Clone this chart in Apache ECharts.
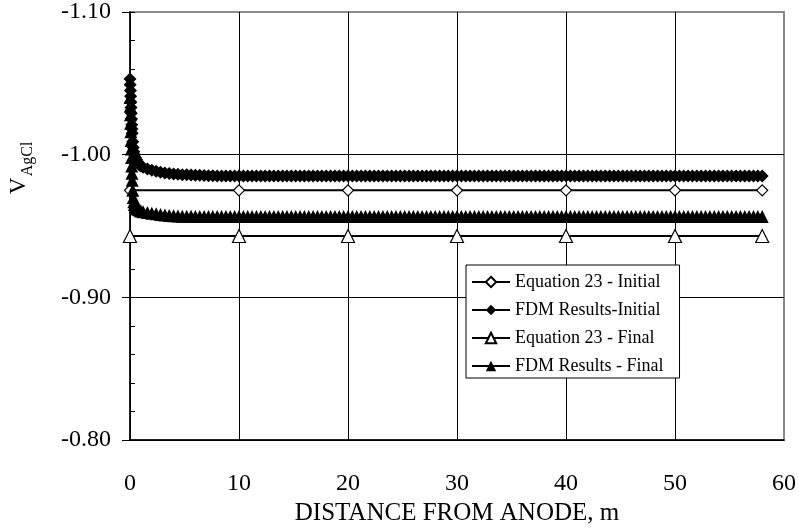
<!DOCTYPE html>
<html>
<head>
<meta charset="utf-8">
<script src="https://cdn.jsdelivr.net/npm/echarts@6/dist/echarts.min.js"></script>
<style>
  html, body { margin: 0; padding: 0; background: #fff; }
  #chart { width: 799px; height: 531px; }
</style>
</head>
<body>
<div id="chart"></div>
<script>
// Distance from anode (m) for the closed-form curves
const EQ_X = [0, 10, 20, 30, 40, 50, 58];
// Equation 23 potentials (V vs AgCl)
const EQ_INITIAL = [-0.975, -0.975, -0.975, -0.975, -0.975, -0.975, -0.975];
const EQ_FINAL = [-0.943, -0.943, -0.943, -0.943, -0.943, -0.943, -0.943];

// Finite-difference mesh positions (m)
const FDM_X = [
  0, 0.02, 0.04, 0.06, 0.08, 0.1, 0.12, 0.14, 0.16, 0.18, 0.2,
  0.25, 0.3, 0.35, 0.4, 0.5, 0.6, 0.7, 0.8, 0.9, 1.0,
  1.2, 1.6, 2, 2.4, 2.8, 3.2, 3.6, 4, 4.4, 4.8,
  5.2, 5.6, 6, 6.4, 6.8, 7.2, 7.6, 8, 8.4, 8.8,
  9.2, 9.6, 10, 10.4, 10.8, 11.2, 11.6, 12, 12.4, 12.8,
  13.2, 13.6, 14, 14.4, 14.8, 15.2, 15.6, 16, 16.4, 16.8,
  17.2, 17.6, 18, 18.4, 18.8, 19.2, 19.6, 20, 20.4, 20.8,
  21.2, 21.6, 22, 22.4, 22.8, 23.2, 23.6, 24, 24.4, 24.8,
  25.2, 25.6, 26, 26.4, 26.8, 27.2, 27.6, 28, 28.4, 28.8,
  29.2, 29.6, 30, 30.4, 30.8, 31.2, 31.6, 32, 32.4, 32.8,
  33.2, 33.6, 34, 34.4, 34.8, 35.2, 35.6, 36, 36.4, 36.8,
  37.2, 37.6, 38, 38.4, 38.8, 39.2, 39.6, 40, 40.4, 40.8,
  41.2, 41.6, 42, 42.4, 42.8, 43.2, 43.6, 44, 44.4, 44.8,
  45.2, 45.6, 46, 46.4, 46.8, 47.2, 47.6, 48, 48.4, 48.8,
  49.2, 49.6, 50, 50.4, 50.8, 51.2, 51.6, 52, 52.4, 52.8,
  53.2, 53.6, 54, 54.4, 54.8, 55.2, 55.6, 56, 56.4, 56.8,
  57.2, 57.6, 58
];
// FDM potentials, initial state
const FDM_INITIAL = [
  -1.053, -1.049, -1.045, -1.041, -1.037, -1.033, -1.029, -1.025, -1.021, -1.018, -1.015,
  -1.009, -1.005, -1.002, -1.000, -0.998, -0.9965, -0.995, -0.9935, -0.9925, -0.992,
  -0.9912, -0.990, -0.989, -0.9883, -0.9877, -0.9872, -0.9868, -0.9865, -0.9862, -0.986,
  -0.9859, -0.9857, -0.9856, -0.9855, -0.9854, -0.9853, -0.9852, -0.9851, -0.9851, -0.9851,
  -0.985, -0.985, -0.985, -0.985, -0.985, -0.985, -0.985, -0.985, -0.985, -0.985,
  -0.985, -0.985, -0.985, -0.985, -0.985, -0.985, -0.985, -0.985, -0.985, -0.985,
  -0.985, -0.985, -0.985, -0.985, -0.985, -0.985, -0.985, -0.985, -0.985, -0.985,
  -0.985, -0.985, -0.985, -0.985, -0.985, -0.985, -0.985, -0.985, -0.985, -0.985,
  -0.985, -0.985, -0.985, -0.985, -0.985, -0.985, -0.985, -0.985, -0.985, -0.985,
  -0.985, -0.985, -0.985, -0.985, -0.985, -0.985, -0.985, -0.985, -0.985, -0.985,
  -0.985, -0.985, -0.985, -0.985, -0.985, -0.985, -0.985, -0.985, -0.985, -0.985,
  -0.985, -0.985, -0.985, -0.985, -0.985, -0.985, -0.985, -0.985, -0.985, -0.985,
  -0.985, -0.985, -0.985, -0.985, -0.985, -0.985, -0.985, -0.985, -0.985, -0.985,
  -0.985, -0.985, -0.985, -0.985, -0.985, -0.985, -0.985, -0.985, -0.985, -0.985,
  -0.985, -0.985, -0.985, -0.985, -0.985, -0.985, -0.985, -0.985, -0.985, -0.985,
  -0.985, -0.985, -0.985, -0.985, -0.985, -0.985, -0.985, -0.985, -0.985, -0.985,
  -0.985, -0.985, -0.985
];
// FDM potentials, final state
const FDM_FINAL = [
  -1.040, -1.034, -1.028, -1.022, -1.016, -1.010, -1.004, -0.998, -0.992, -0.987, -0.982,
  -0.975, -0.970, -0.967, -0.965, -0.9635, -0.9625, -0.962, -0.9615, -0.961, -0.9605,
  -0.960, -0.9595, -0.959, -0.9585, -0.958, -0.9577, -0.9574, -0.9572, -0.957, -0.9569,
  -0.9568, -0.9568, -0.9567, -0.9567, -0.9567, -0.9566, -0.9566, -0.9566, -0.9566, -0.9566,
  -0.9566, -0.9566, -0.9566, -0.9566, -0.9566, -0.9566, -0.9566, -0.9566, -0.9566, -0.9566,
  -0.9566, -0.9566, -0.9566, -0.9566, -0.9566, -0.9566, -0.9566, -0.9566, -0.9566, -0.9566,
  -0.9566, -0.9566, -0.9566, -0.9566, -0.9566, -0.9566, -0.9566, -0.9566, -0.9566, -0.9566,
  -0.9566, -0.9566, -0.9566, -0.9566, -0.9566, -0.9566, -0.9566, -0.9566, -0.9566, -0.9566,
  -0.9566, -0.9566, -0.9566, -0.9566, -0.9566, -0.9566, -0.9566, -0.9566, -0.9566, -0.9566,
  -0.9566, -0.9566, -0.9566, -0.9566, -0.9566, -0.9566, -0.9566, -0.9566, -0.9566, -0.9566,
  -0.9566, -0.9566, -0.9566, -0.9566, -0.9566, -0.9566, -0.9566, -0.9566, -0.9566, -0.9566,
  -0.9566, -0.9566, -0.9566, -0.9566, -0.9566, -0.9566, -0.9566, -0.9566, -0.9566, -0.9566,
  -0.9566, -0.9566, -0.9566, -0.9566, -0.9566, -0.9566, -0.9566, -0.9566, -0.9566, -0.9566,
  -0.9566, -0.9566, -0.9566, -0.9566, -0.9566, -0.9566, -0.9566, -0.9566, -0.9566, -0.9566,
  -0.9566, -0.9566, -0.9566, -0.9566, -0.9566, -0.9566, -0.9566, -0.9566, -0.9566, -0.9566,
  -0.9566, -0.9566, -0.9566, -0.9566, -0.9566, -0.9566, -0.9566, -0.9566, -0.9566, -0.9566,
  -0.9566, -0.9566, -0.9566
];

const SERIES_NAMES = [
  'Equation 23 - Initial',
  'FDM Results-Initial',
  'Equation 23 - Final',
  'FDM Results - Final'
];
const X_TITLE = 'DISTANCE FROM ANODE, m';

const FONT = 'Liberation Serif';

function pairs(xs, ys) {
  return xs.map((x, i) => [x, ys[i]]);
}

const chart = echarts.init(document.getElementById('chart'), null, { renderer: 'canvas' });

const openMarker = {
  color: '#fff',
  borderColor: '#000',
  borderWidth: 1.2
};

chart.setOption({
  animation: false,
  backgroundColor: '#fff',
  textStyle: { fontFamily: FONT, color: '#000' },
  grid: {
    left: 130, right: 15, top: 8, bottom: 91,
    show: true,
    borderColor: '#8a8a8a',
    borderWidth: 2,
    backgroundColor: 'transparent'
  },
  legend: {
    orient: 'vertical',
    left: 466,
    top: 265,
    padding: [8, 16, 3, 5],
    itemGap: 10,
    itemWidth: 38,
    itemHeight: 13,
    backgroundColor: '#fff',
    borderColor: '#000',
    borderWidth: 1,
    borderRadius: 0,
    textStyle: { fontFamily: FONT, fontSize: 18, color: '#000', lineHeight: 18 },
    data: SERIES_NAMES
  },
  xAxis: {
    type: 'value',
    min: 0, max: 60, interval: 10,
    name: X_TITLE,
    nameLocation: 'middle',
    nameGap: 60,
    nameTextStyle: { fontFamily: FONT, fontSize: 25, color: '#000' },
    axisLine: { show: true, onZero: false, lineStyle: { color: '#000', width: 1.5 } },
    axisTick: { show: false },
    axisLabel: { margin: 32, fontFamily: FONT, fontSize: 24, color: '#000' },
    splitLine: {
      show: true,
      lineStyle: {
        color: ['#000', '#000', '#000', '#000', '#000', '#000', 'rgba(0,0,0,0)'],
        width: 1
      }
    }
  },
  yAxis: [
    {
      type: 'value',
      inverse: true,
      min: -1.1, max: -0.8, interval: 0.1,
      position: 'left',
      axisLine: { show: true, onZero: false, lineStyle: { color: '#000', width: 1.5 } },
      axisTick: { show: true, inside: false, length: 8, lineStyle: { color: '#000', width: 1 } },
      axisLabel: {
        margin: 19, fontFamily: FONT, fontSize: 24, color: '#000',
        formatter: v => v.toFixed(2)
      },
      splitLine: {
        show: true,
        lineStyle: { color: ['rgba(0,0,0,0)', '#000', '#000', '#000'], width: 1 }
      }
    },
    {
      // minor ticks every 0.02, pointing into the plot
      type: 'value',
      inverse: true,
      min: -1.1, max: -0.8, interval: 0.02,
      position: 'left',
      axisLine: { show: false },
      axisTick: { show: true, inside: true, length: 5, lineStyle: { color: '#000', width: 1 } },
      axisLabel: { show: false },
      splitLine: { show: false }
    }
  ],
  graphic: [
    {
      type: 'text',
      x: 19, y: 186,
      rotation: Math.PI / 2,
      style: { text: 'V', fontFamily: FONT, fontSize: 23, fill: '#000', align: 'center', verticalAlign: 'middle' }
    },
    {
      type: 'text',
      x: 28, y: 159,
      rotation: Math.PI / 2,
      style: { text: 'AgCl', fontFamily: FONT, fontSize: 16, fill: '#000', align: 'center', verticalAlign: 'middle' }
    }
  ],
  series: [
    {
      name: SERIES_NAMES[0],
      type: 'line',
      data: pairs(EQ_X, EQ_INITIAL),
      symbol: 'diamond',
      symbolSize: 11,
      showAllSymbol: true,
      color: '#000',
      lineStyle: { color: '#000', width: 2 },
      itemStyle: openMarker,
      z: 2
    },
    {
      name: SERIES_NAMES[1],
      type: 'line',
      data: pairs(FDM_X, FDM_INITIAL),
      symbol: 'diamond',
      symbolSize: 13,
      showAllSymbol: true,
      color: '#000',
      lineStyle: { color: '#000', width: 1.5 },
      itemStyle: { color: '#000' },
      z: 3
    },
    {
      name: SERIES_NAMES[2],
      type: 'line',
      data: pairs(EQ_X, EQ_FINAL),
      symbol: 'triangle',
      symbolSize: 13,
      showAllSymbol: true,
      color: '#000',
      lineStyle: { color: '#000', width: 2 },
      itemStyle: openMarker,
      z: 2
    },
    {
      name: SERIES_NAMES[3],
      type: 'line',
      data: pairs(FDM_X, FDM_FINAL),
      symbol: 'triangle',
      symbolSize: 13,
      showAllSymbol: true,
      color: '#000',
      lineStyle: { color: '#000', width: 1.5 },
      itemStyle: { color: '#000' },
      z: 3
    }
  ]
});
</script>
</body>
</html>
